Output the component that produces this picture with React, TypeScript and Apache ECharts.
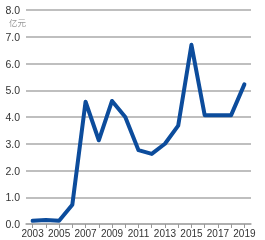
import React, { useEffect, useRef } from "react";
import * as echarts from "echarts";

const years = ["2003","2004","2005","2006","2007","2008","2009","2010","2011","2012","2013","2014","2015","2016","2017","2018","2019"];
const values = [0.12, 0.15, 0.12, 0.72, 4.57, 3.13, 4.6, 4.0, 2.76, 2.62, 3.0, 3.68, 6.7, 4.07, 4.07, 4.07, 5.22];
const unitLabel = "亿元";

export default function App() {
  const ref = useRef<HTMLDivElement>(null);
  useEffect(() => {
    const chart = echarts.init(ref.current!, null, { renderer: "svg" });
    const font = "'Liberation Sans', Arial, sans-serif";
    chart.setOption({
      animation: false,
      grid: { left: 26, right: 14, top: 10, bottom: 16 },
      graphic: [
        { type: "text", left: 9, top: 18, style: { text: unitLabel, fontSize: 8.5, fill: "#999", fontFamily: "'Noto Sans CJK SC', sans-serif" } },
      ],
      xAxis: {
        type: "category",
        data: years,
        boundaryGap: true,
        axisLine: { show: true, lineStyle: { color: "#aaa", width: 1.5 } },
        axisTick: { show: true, alignWithLabel: true, interval: 0, length: 4, lineStyle: { color: "#999" } },
        axisLabel: { interval: 1, color: "#333", fontSize: 10, fontFamily: font, margin: 4 },
      },
      yAxis: {
        type: "value",
        min: 0,
        max: 8,
        interval: 1,
        axisLine: { show: false },
        axisTick: { show: false },
        axisLabel: { color: "#333", fontSize: 10.5, fontFamily: font, margin: 6, formatter: (v: number) => v.toFixed(1) },
        splitLine: { lineStyle: { color: "#aaa", width: 1.5 } },
      },
      series: [
        {
          type: "line",
          data: values,
          symbol: "none",
          lineStyle: { color: "#0c4c9c", width: 4, join: "round", cap: "round" },
        },
      ],
    });
    return () => chart.dispose();
  }, []);
  return <div ref={ref} style={{ position: "fixed", left: 0, top: 0, width: 265, height: 240 }} />;
}
